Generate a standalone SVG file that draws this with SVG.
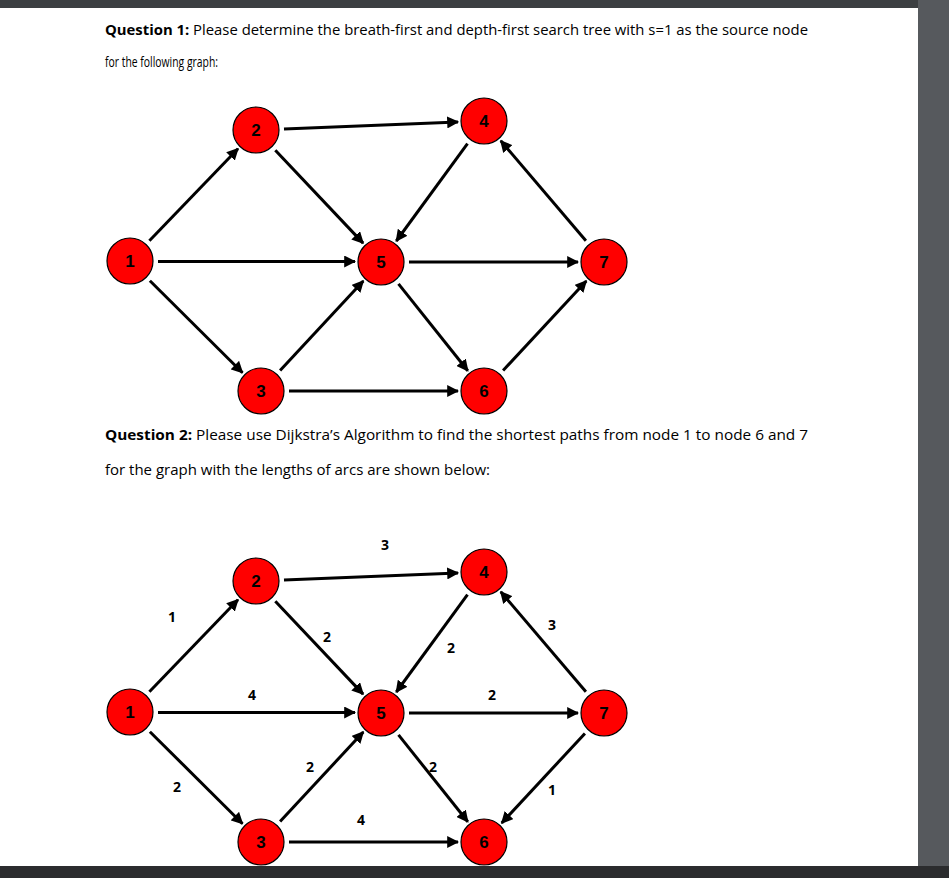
<svg xmlns="http://www.w3.org/2000/svg" width="949" height="878" viewBox="0 0 949 878">
<style>
.e{stroke:#000;stroke-width:3;fill:none;marker-end:url(#ah)}
.n circle{fill:#f00;stroke:#000;stroke-width:1.2}
.n text{font-family:"Liberation Sans",Arial,sans-serif;font-weight:bold;font-size:17px;text-anchor:middle;fill:#000}
.t{font-family:"Open Sans","Noto Sans",sans-serif;font-size:14.5px;fill:#000}
.w{font-family:"Open Sans","Noto Sans",sans-serif;font-weight:bold;font-size:14px;text-anchor:middle;fill:#000}
</style>
<defs>
<marker id="ah" viewBox="0 0 10 10" refX="9" refY="5" markerWidth="4" markerHeight="4" orient="auto" markerUnits="strokeWidth"><path d="M0,0L10,5L0,10z" fill="#000"/></marker>
<g id="edges">
<line class="e" x1="149.4" y1="240.8" x2="238" y2="148.7"/>
<line class="e" x1="158" y1="261.5" x2="355" y2="261.5"/>
<line class="e" x1="149.9" y1="280.7" x2="242.5" y2="372.7"/>
<line class="e" x1="284" y1="128.9" x2="458" y2="122"/>
<line class="e" x1="275.3" y1="150.3" x2="363.1" y2="243.1"/>
<line class="e" x1="467.5" y1="143.6" x2="396.3" y2="241"/>
<line class="e" x1="585.9" y1="240.7" x2="500.8" y2="140.8"/>
<line class="e" x1="409" y1="262" x2="578" y2="262"/>
<line class="e" x1="398.5" y1="283.9" x2="467.8" y2="370.7"/>
<line class="e" x1="280.1" y1="370.5" x2="363.3" y2="281"/>
<line class="e" x1="289" y1="391" x2="458" y2="391"/>
</g>
<g id="nodes">
<g class="n" id="N1"><circle cx="130" cy="261" r="23"/><text x="130" y="267">1</text></g>
<g class="n" id="N2"><circle cx="256" cy="130" r="23"/><text x="256" y="136">2</text></g>
<g class="n" id="N3"><circle cx="261" cy="391" r="23"/><text x="261" y="397">3</text></g>
<g class="n" id="N4"><circle cx="484" cy="121" r="23"/><text x="484" y="127">4</text></g>
<g class="n" id="N5"><circle cx="381" cy="262" r="23"/><text x="381" y="268">5</text></g>
<g class="n" id="N6"><circle cx="484" cy="391" r="23"/><text x="484" y="397">6</text></g>
<g class="n" id="N7"><circle cx="604" cy="262" r="23"/><text x="604" y="268">7</text></g>
</g>
</defs>
<rect width="949" height="878" fill="#fff"/>
<rect x="0" y="0" width="949" height="8" fill="#3c3f42"/>
<rect x="918" y="0" width="31" height="878" fill="#56595d"/>
<rect x="0" y="866" width="949" height="12" fill="#2b2c2e"/>
<text class="t" x="105" y="35" textLength="703" lengthAdjust="spacingAndGlyphs"><tspan font-weight="bold">Question 1:</tspan> Please determine the breath-first and depth-first search tree with s=1 as the source node</text>
<text class="t" x="105" y="67" textLength="113" lengthAdjust="spacingAndGlyphs">for the following graph:</text>
<text class="t" x="105" y="440" textLength="703" lengthAdjust="spacingAndGlyphs"><tspan font-weight="bold">Question 2:</tspan> Please use Dijkstra’s Algorithm to find the shortest paths from node 1 to node 6 and 7</text>
<text class="t" x="105" y="475" textLength="385" lengthAdjust="spacingAndGlyphs">for the graph with the lengths of arcs are shown below:</text>
<g id="connectors1"><use href="#edges"/><line class="e" x1="503.1" y1="370.5" x2="586.3" y2="281"/></g>
<g id="graph1"><use href="#nodes"/></g>
<g id="connectors2" transform="translate(0,451)"><use href="#edges"/><line class="e" x1="584.9" y1="282.5" x2="501.7" y2="372"/></g>
<g id="graph2" transform="translate(0,451)"><use href="#nodes"/></g>
<g id="weights">
<text class="w" x="385" y="550">3</text>
<text class="w" x="172" y="622">1</text>
<text class="w" x="327" y="642">2</text>
<text class="w" x="451" y="653">2</text>
<text class="w" x="552" y="630">3</text>
<text class="w" x="252" y="700">4</text>
<text class="w" x="492" y="700">2</text>
<text class="w" x="310" y="772">2</text>
<text class="w" x="433" y="772">2</text>
<text class="w" x="177" y="792">2</text>
<text class="w" x="552" y="795">1</text>
<text class="w" x="361" y="825">4</text>
</g>
</svg>
